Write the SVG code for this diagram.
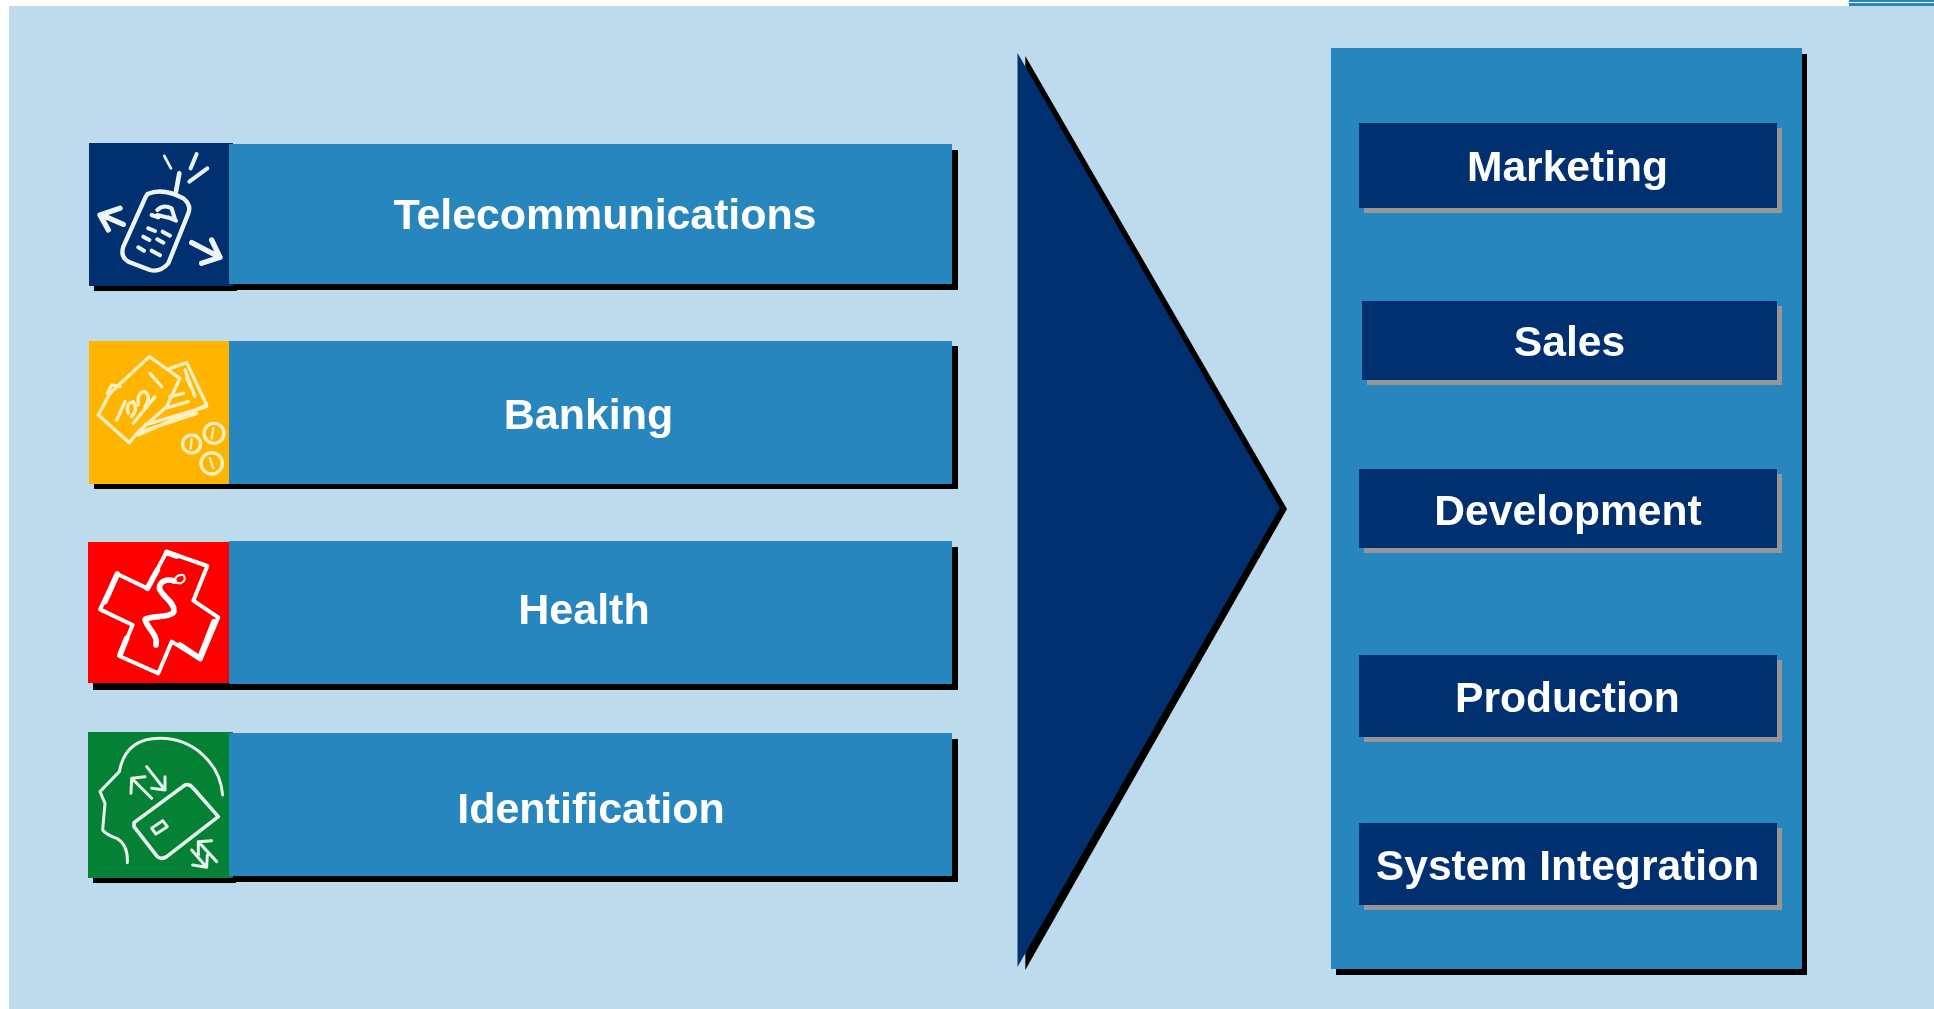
<svg xmlns="http://www.w3.org/2000/svg" width="1934" height="1009" viewBox="0 0 1934 1009">
<style>
.t{font-family:"Liberation Sans",Arial,sans-serif;font-weight:700;fill:#fff;text-anchor:middle;font-size:42.6px}
.l{font-size:43px}
.bar{fill:#2686bd}.sh{fill:#000}.navy{fill:#003070}.gr{fill:#969696}
.ic{fill:none;stroke-linecap:round;stroke-linejoin:round}
</style>
<defs>
<filter id="b" x="-5%" y="-5%" width="110%" height="110%"><feGaussianBlur stdDeviation="0.8"/></filter>
<filter id="s" x="-5%" y="-5%" width="110%" height="110%"><feGaussianBlur stdDeviation="0.35"/></filter>
</defs>
<rect width="1934" height="1009" fill="#fff"/>
<rect x="9" y="6" width="1925" height="1003" fill="#bddbec"/>
<rect x="1849" y="0" width="85" height="2" fill="#2686bd"/><rect x="1849" y="3" width="85" height="3" fill="#2686bd"/>

<g id="row-telecom">
<rect class="sh" x="94" y="150" width="143" height="141"/>
<rect class="sh" x="234" y="150" width="724" height="140"/>
<rect class="navy" x="89" y="143" width="144" height="143"/>
<rect class="bar" x="229" y="144" width="723" height="140"/>
<g transform="translate(70 130) scale(.3333)" class="ic" stroke="#eef5fa" stroke-width="13" filter="url(#b)">
<path d="M232,192Q280,172 340,205Q365,225 355,250L295,400Q270,428 240,420L175,395Q150,380 160,350L225,205Z"/>
<path d="M318,185L328,130" stroke-width="14"/>
<path d="M283,78L303,115" stroke-width="8"/><path d="M380,72L362,115M412,115L358,155" stroke-width="12"/>
<path d="M160,283L95,255M150,235L90,255L115,300M365,338L450,382M425,330L450,382L395,400" stroke-width="16"/>
<path d="M262,240Q280,222 305,235L315,268L262,255M245,255L265,262M295,262L318,272M235,295L255,303M278,305L300,317M220,320L238,330M262,328L280,338M205,352L222,362M245,362L270,376" stroke-width="12"/>
</g>
<text class="t l" x="605" y="228.5" textLength="423" filter="url(#s)">Telecommunications</text>
</g>

<g id="row-banking">
<rect class="sh" x="94" y="346" width="864" height="143"/>
<rect x="89" y="341" width="140" height="143" fill="#ffb400"/>
<rect class="bar" x="229" y="341" width="723" height="143"/>
<g transform="translate(70 130) scale(.3333)" class="ic" stroke="#ffefbd" stroke-width="10" filter="url(#b)">
<path d="M238,680L330,745L290,830L205,905L178,938L85,855L120,790Z"/>
<path d="M112,790L125,765L150,770M300,715L350,698L410,825L205,915M345,720L375,800M300,800L340,790M285,835L355,815M225,885L410,830M215,905L380,850M350,745L365,775"/>
<path d="M140,870L165,815M175,850Q165,820 190,815Q205,840 185,860M205,825Q200,785 225,785Q245,800 225,830M240,730L275,770M190,880L255,800"/>
<circle cx="365" cy="942" r="27"/><circle cx="432" cy="910" r="30"/><circle cx="425" cy="1000" r="32"/>
<path d="M365,928L362,955M430,895L425,925M420,985L430,1015" stroke-width="7"/>
</g>
<text class="t l" x="588.5" y="429" filter="url(#s)">Banking</text>
</g>

<g id="row-health">
<rect class="sh" x="93" y="547" width="865" height="143"/>
<rect x="88" y="542" width="141" height="141" fill="#ff0000"/>
<rect class="bar" x="229" y="541" width="723" height="143"/>
<g transform="translate(70 530) scale(.3333)" class="ic" stroke="#fff" stroke-width="12" filter="url(#s)">
<path d="M290,65L412,108L370,212L445,262L392,388L305,335L265,430L148,378L188,285L90,238L142,132L232,175Z"/>
<path d="M142,132L105,215M150,375L170,325M330,345L390,385M290,68L320,78M232,175L262,120M432,275L395,370" stroke-width="17"/>
<path d="M312,153C290,145 268,155 268,175C275,200 315,215 312,245C300,265 250,255 225,268C235,300 265,315 258,345" stroke-width="17"/>
<path d="M312,153Q320,132 340,135Q352,150 332,160Q318,160 312,153Z" stroke-width="6"/>
</g>
<text class="t l" x="584" y="623.5" filter="url(#s)">Health</text>
</g>

<g id="row-identification">
<rect class="sh" x="93" y="739" width="143" height="144"/>
<rect class="sh" x="234" y="739" width="724" height="143"/>
<rect x="88" y="732" width="145" height="146" fill="#058135"/>
<rect class="bar" x="229" y="733" width="723" height="143"/>
<g transform="translate(70 530) scale(.3333)" class="ic" stroke="#e6f5ea" stroke-width="9" filter="url(#b)">
<path d="M458,795C450,700 370,625 270,625C200,625 160,660 148,725L90,785L105,820L98,900Q110,915 140,925Q175,945 172,998"/>
<path d="M192,878L345,765Q358,760 370,775L445,860L290,980Q275,990 262,980L192,890Z" stroke-width="11"/>
<path d="M245,895L278,872L292,890L258,912Z"/>
<path d="M245,805L185,745M183,790L185,745L225,740M230,710L285,780M285,740L285,780L245,775M440,995L385,935M385,975L385,935L425,932M365,960L410,1012M368,1005L410,1012L412,975"/>
</g>
<text class="t l" x="591" y="823" filter="url(#s)">Identification</text>
</g>

<g id="arrow">
<polygon class="sh" points="1025.3,56 1287,509 1025.3,970"/>
<polygon class="navy" points="1017.5,53 1280,508 1017.5,967"/>
</g>

<g id="panel">
<rect class="sh" x="1336" y="54" width="471" height="921"/>
<rect class="bar" x="1331" y="48" width="471" height="921"/>
</g>
<g id="btn-marketing"><rect class="gr" x="1364" y="128" width="418" height="85"/><rect class="navy" x="1359" y="123" width="418" height="85"/><text class="t" x="1567.5" y="181" filter="url(#s)">Marketing</text></g>
<g id="btn-sales"><rect class="gr" x="1367" y="306" width="415" height="79"/><rect class="navy" x="1362" y="301" width="415" height="79"/><text class="t" x="1569.5" y="356" filter="url(#s)">Sales</text></g>
<g id="btn-development"><rect class="gr" x="1364" y="474" width="418" height="79"/><rect class="navy" x="1359" y="469" width="418" height="79"/><text class="t" x="1568" y="525" filter="url(#s)">Development</text></g>
<g id="btn-production"><rect class="gr" x="1364" y="660" width="418" height="82"/><rect class="navy" x="1359" y="655" width="418" height="82"/><text class="t" x="1567.5" y="712" filter="url(#s)">Production</text></g>
<g id="btn-system"><rect class="gr" x="1364" y="828" width="418" height="82"/><rect class="navy" x="1359" y="823" width="418" height="82"/><text class="t" x="1567.5" y="880" filter="url(#s)">System Integration</text></g>
</svg>
